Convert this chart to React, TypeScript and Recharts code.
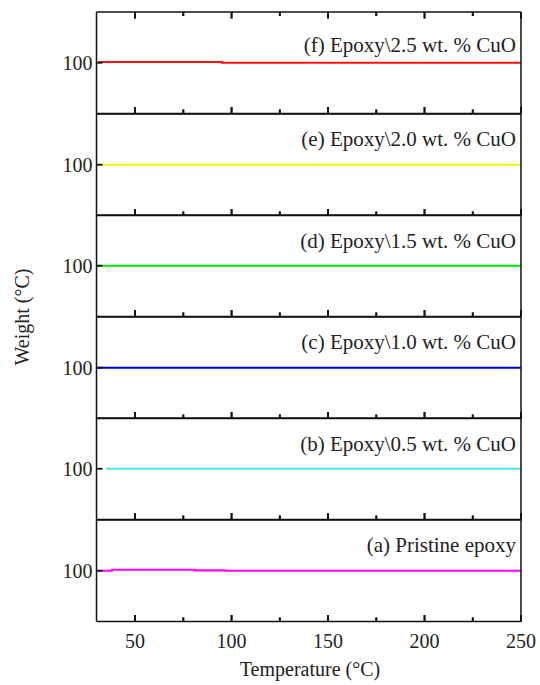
import React from 'react';
import { LineChart, Line, XAxis, YAxis, ReferenceLine } from 'recharts';

// ---- data ----
const temperatureTicks = [50, 75, 100, 125, 150, 175, 200, 225, 250];
const weightTicks = [100];
const temperatureDomain = [30, 250];
const weightDomain = [98, 102];

const panelLabels = [
  '(f) Epoxy\\2.5 wt. % CuO',
  '(e) Epoxy\\2.0 wt. % CuO',
  '(d) Epoxy\\1.5 wt. % CuO',
  '(c) Epoxy\\1.0 wt. % CuO',
  '(b) Epoxy\\0.5 wt. % CuO',
  '(a) Pristine epoxy',
];
const panelColors = ['#ff1010', '#f5f500', '#00e600', '#0000e8', '#3ee8e8', '#ff00ff'];

const tempF = [31, 95, 95, 250];
const weightF = [100.03, 100.03, 100.0, 100.0];
const tempE = [30, 250];
const weightE = [100, 100];
const tempD = [30, 250];
const weightD = [100, 100];
const tempC = [30, 250];
const weightC = [100, 100];
const tempB = [35, 250];
const weightB = [100, 100];
const tempA = [30, 38, 38, 81, 81, 97, 97, 250];
const weightA = [100, 100, 100.04, 100.04, 100.015, 100.015, 100, 100];

const panelTemps = [tempF, tempE, tempD, tempC, tempB, tempA];
const panelWeights = [weightF, weightE, weightD, weightC, weightB, weightA];

const xTitle = 'Temperature (°C)';
const yTitle = 'Weight (°C)';

// ---- layout ----
const FONT = '"Liberation Serif", "Times New Roman", serif';
const AXIS = '#111';
const PLOT_TOP = 12;
const PANEL_H = 101.5;
const LEFT_W = 96.5;
const RIGHT_M = 18;
const MAJOR_PX = 6.5;
const MINOR_PX = 4;
const TICK_W = 1.8;
const unitsPerPx = (weightDomain[1] - weightDomain[0]) / PANEL_H;

const isMajor = (v: number) => v % 50 === 0;

const BottomTickPlain = (props: any) => {
  const { x, y, payload } = props;
  const len = isMajor(payload.value) ? MAJOR_PX : MINOR_PX;
  return <line x1={x} x2={x} y1={y} y2={y - len} stroke={AXIS} strokeWidth={TICK_W} />;
};

const BottomTickLabeled = (props: any) => {
  const { x, y, payload } = props;
  const major = isMajor(payload.value);
  return (
    <g>
      <line x1={x} x2={x} y1={y} y2={y - (major ? MAJOR_PX : MINOR_PX)} stroke={AXIS} strokeWidth={TICK_W} />
      {major && (
        <text x={x} y={y + 26} textAnchor="middle" fontFamily={FONT} fontSize={20} fill="#222">
          {payload.value}
        </text>
      )}
    </g>
  );
};

const TopTick = (props: any) => {
  const { x, y, payload } = props;
  const len = isMajor(payload.value) ? MAJOR_PX : MINOR_PX;
  return <line x1={x} x2={x} y1={y} y2={y + len} stroke={AXIS} strokeWidth={TICK_W} />;
};

const LeftTick = (props: any) => {
  const { x, y, payload } = props;
  return (
    <g>
      <line x1={x} x2={x + 6} y1={y} y2={y} stroke={AXIS} strokeWidth={TICK_W} />
      <text x={x - 4} y={y} dy="0.35em" textAnchor="end" fontFamily={FONT} fontSize={20} fill="#222">
        {payload.value}
      </text>
    </g>
  );
};

const axisLineStyle = { stroke: AXIS, strokeWidth: 1.5 };

function Panel({ index }: { index: number }) {
  const last = index === panelLabels.length - 1;
  const first = index === 0;
  const data = panelTemps[index].map((t, i) => ({ t, w: panelWeights[index][i] }));
  const extra = last ? 40 : 0;
  const lo = weightDomain[0];
  const hi = weightDomain[1];
  return (
    <div style={{ position: 'absolute', left: 0, top: PLOT_TOP + index * PANEL_H - 2 }}>
      <LineChart
        width={540}
        height={PANEL_H + 4 + extra}
        data={data}
        margin={{ top: 1, right: RIGHT_M, bottom: 1 + extra, left: 0 }}
      >
        <XAxis
          dataKey="t"
          type="number"
          domain={temperatureDomain}
          allowDataOverflow
          ticks={temperatureTicks}
          interval={0}
          height={1}
          tickSize={0}
          tickMargin={0}
          tickLine={false}
          axisLine={axisLineStyle}
          tick={last ? BottomTickLabeled : BottomTickPlain}
        />
        <XAxis
          xAxisId="top"
          orientation="top"
          dataKey="t"
          type="number"
          domain={temperatureDomain}
          allowDataOverflow
          ticks={temperatureTicks}
          interval={0}
          height={1}
          tickSize={0}
          tickMargin={0}
          tickLine={false}
          axisLine={axisLineStyle}
          tick={first ? TopTick : false}
        />
        <YAxis
          type="number"
          domain={weightDomain}
          allowDataOverflow
          ticks={weightTicks}
          interval={0}
          width={LEFT_W}
          tickSize={0}
          tickMargin={0}
          tickLine={false}
          axisLine={axisLineStyle}
          tick={LeftTick}
        />
        <YAxis
          yAxisId="right"
          orientation="right"
          type="number"
          domain={weightDomain}
          allowDataOverflow
          width={1}
          tick={false}
          tickLine={false}
          axisLine={axisLineStyle}
        />
        {temperatureTicks.map((t) => {
          const len = (isMajor(t) ? MAJOR_PX : MINOR_PX) * unitsPerPx;
          return (
            <ReferenceLine
              key={`b${t}`}
              segment={[
                { x: t, y: lo },
                { x: t, y: lo + len },
              ]}
              stroke={AXIS}
              strokeWidth={TICK_W}
              ifOverflow="visible"
            />
          );
        })}
        {first &&
          temperatureTicks.map((t) => {
            const len = (isMajor(t) ? MAJOR_PX : MINOR_PX) * unitsPerPx;
            return (
              <ReferenceLine
                key={`t${t}`}
                segment={[
                  { x: t, y: hi },
                  { x: t, y: hi - len },
                ]}
                stroke={AXIS}
                strokeWidth={TICK_W}
                ifOverflow="visible"
              />
            );
          })}
        <Line
          type="linear"
          dataKey="w"
          stroke={panelColors[index]}
          strokeWidth={2.2}
          dot={false}
          isAnimationActive={false}
        />
      </LineChart>
    </div>
  );
}

export default function App() {
  return (
    <div style={{ position: 'absolute', left: 0, top: 0, width: 540, height: 685, background: '#fff' }}>
      {panelLabels.map((_, i) => (
        <Panel key={i} index={i} />
      ))}
      <svg
        width={540}
        height={685}
        style={{ position: 'absolute', left: 0, top: 0, pointerEvents: 'none' }}
      >
        {panelLabels.map((lab, i) => (
          <text
            key={lab}
            x={516}
            y={PLOT_TOP + i * PANEL_H + (i === 0 ? 39.5 : 32.5)}
            textAnchor="end"
            fontFamily={FONT}
            fontSize={21}
            fill="#222"
          >
            {lab}
          </text>
        ))}
        <text x={310} y={676} textAnchor="middle" fontFamily={FONT} fontSize={20} fill="#222">
          {xTitle}
        </text>
        <text
          x={22}
          y={317}
          transform="rotate(-90 22 317)"
          textAnchor="middle"
          dy="0.35em"
          fontFamily={FONT}
          fontSize={20}
          fill="#222"
        >
          {yTitle}
        </text>
      </svg>
    </div>
  );
}
